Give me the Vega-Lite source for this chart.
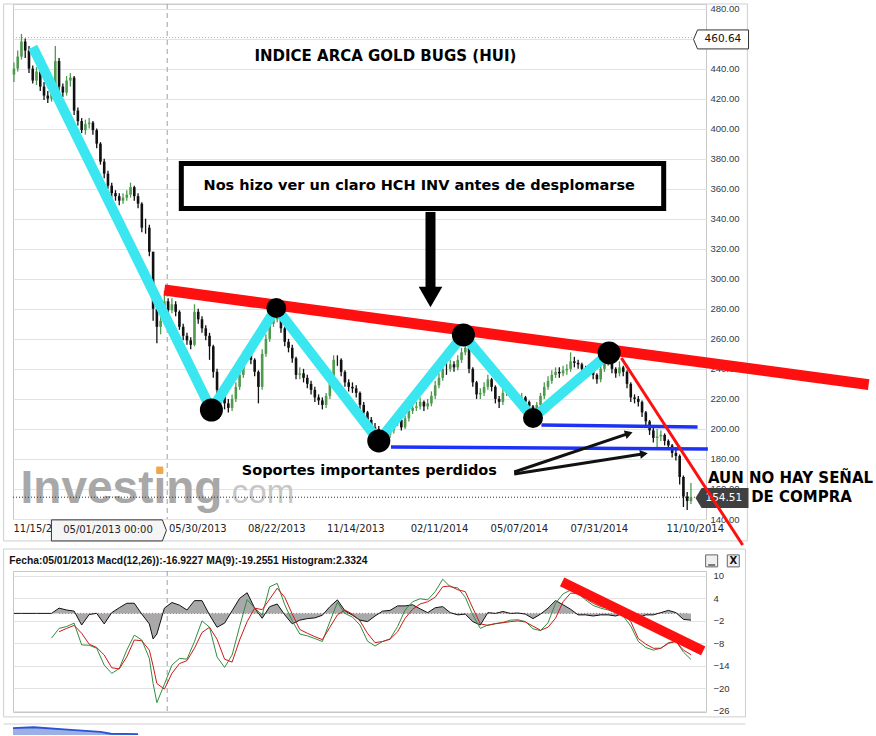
{
"$schema":"https://vega.github.io/schema/vega-lite/v6.json",
"usermeta":{"embedOptions":{"actions":false}},
"padding":{"left":2,"top":3,"right":0,"bottom":0},
"background":"white",
"bounds":"flush",
"spacing":52,
"config":{"view":{"stroke":"#c8c8c8"},"axis":{"domain":false,"ticks":false},"text":{"font":"DejaVu Sans"}},
"datasets":{
"price":[
{"d":"2012-11-16","o":436,"h":444,"l":431,"c":440},
{"d":"2012-11-20","o":440,"h":452,"l":438,"c":448},
{"d":"2012-11-24","o":448,"h":463,"l":446,"c":458},
{"d":"2012-11-28","o":458,"h":460,"l":447,"c":452},
{"d":"2012-12-02","o":452,"h":455,"l":437,"c":440},
{"d":"2012-12-06","o":440,"h":442,"l":430,"c":432},
{"d":"2012-12-10","o":432,"h":441,"l":429,"c":438},
{"d":"2012-12-14","o":438,"h":439,"l":425,"c":428},
{"d":"2012-12-18","o":428,"h":431,"l":419,"c":422},
{"d":"2012-12-22","o":422,"h":425,"l":417,"c":420},
{"d":"2012-12-26","o":420,"h":431,"l":418,"c":428},
{"d":"2012-12-30","o":428,"h":455,"l":426,"c":445},
{"d":"2013-01-03","o":445,"h":447,"l":425,"c":428},
{"d":"2013-01-07","o":428,"h":430,"l":421,"c":424},
{"d":"2013-01-11","o":424,"h":435,"l":422,"c":432},
{"d":"2013-01-15","o":432,"h":437,"l":428,"c":434},
{"d":"2013-01-19","o":434,"h":435,"l":409,"c":412},
{"d":"2013-01-23","o":412,"h":414,"l":402,"c":405},
{"d":"2013-01-27","o":405,"h":407,"l":397,"c":399},
{"d":"2013-01-31","o":399,"h":406,"l":396,"c":403},
{"d":"2013-02-04","o":403,"h":407,"l":400,"c":404},
{"d":"2013-02-08","o":404,"h":405,"l":396,"c":399},
{"d":"2013-02-12","o":399,"h":400,"l":387,"c":390},
{"d":"2013-02-16","o":390,"h":391,"l":376,"c":378},
{"d":"2013-02-20","o":378,"h":380,"l":367,"c":370},
{"d":"2013-02-24","o":370,"h":372,"l":360,"c":362},
{"d":"2013-02-28","o":362,"h":364,"l":354,"c":357},
{"d":"2013-03-04","o":357,"h":359,"l":352,"c":355},
{"d":"2013-03-08","o":355,"h":357,"l":349,"c":352},
{"d":"2013-03-12","o":352,"h":357,"l":350,"c":354},
{"d":"2013-03-16","o":354,"h":359,"l":352,"c":356},
{"d":"2013-03-20","o":356,"h":364,"l":354,"c":361},
{"d":"2013-03-24","o":361,"h":362,"l":352,"c":355},
{"d":"2013-03-28","o":355,"h":357,"l":347,"c":350},
{"d":"2013-04-01","o":350,"h":351,"l":331,"c":334},
{"d":"2013-04-05","o":334,"h":340,"l":330,"c":334},
{"d":"2013-04-09","o":334,"h":336,"l":315,"c":318},
{"d":"2013-04-13","o":318,"h":318,"l":272,"c":280},
{"d":"2013-04-17","o":280,"h":282,"l":257,"c":268},
{"d":"2013-04-21","o":268,"h":276,"l":263,"c":272},
{"d":"2013-04-25","o":272,"h":292,"l":270,"c":285},
{"d":"2013-04-29","o":285,"h":287,"l":276,"c":279},
{"d":"2013-05-03","o":279,"h":287,"l":277,"c":283},
{"d":"2013-05-07","o":283,"h":285,"l":275,"c":278},
{"d":"2013-05-11","o":278,"h":279,"l":266,"c":268},
{"d":"2013-05-15","o":268,"h":270,"l":259,"c":262},
{"d":"2013-05-19","o":262,"h":264,"l":256,"c":259},
{"d":"2013-05-23","o":259,"h":261,"l":253,"c":256},
{"d":"2013-05-27","o":256,"h":283,"l":255,"c":278},
{"d":"2013-05-31","o":278,"h":280,"l":270,"c":273},
{"d":"2013-06-04","o":273,"h":275,"l":264,"c":267},
{"d":"2013-06-08","o":267,"h":269,"l":259,"c":262},
{"d":"2013-06-12","o":262,"h":264,"l":246,"c":255},
{"d":"2013-06-16","o":255,"h":256,"l":234,"c":238},
{"d":"2013-06-20","o":238,"h":240,"l":223,"c":226},
{"d":"2013-06-24","o":226,"h":228,"l":217,"c":222},
{"d":"2013-06-28","o":222,"h":224,"l":213,"c":217},
{"d":"2013-07-02","o":217,"h":220,"l":211,"c":214},
{"d":"2013-07-06","o":214,"h":223,"l":212,"c":220},
{"d":"2013-07-10","o":220,"h":231,"l":218,"c":228},
{"d":"2013-07-14","o":228,"h":239,"l":226,"c":236},
{"d":"2013-07-18","o":236,"h":252,"l":234,"c":249},
{"d":"2013-07-22","o":249,"h":253,"l":246,"c":250},
{"d":"2013-07-26","o":250,"h":252,"l":243,"c":246},
{"d":"2013-07-30","o":246,"h":247,"l":235,"c":238},
{"d":"2013-08-03","o":238,"h":239,"l":217,"c":228},
{"d":"2013-08-07","o":228,"h":253,"l":226,"c":250},
{"d":"2013-08-11","o":250,"h":263,"l":248,"c":260},
{"d":"2013-08-15","o":260,"h":273,"l":258,"c":270},
{"d":"2013-08-19","o":270,"h":276,"l":268,"c":273},
{"d":"2013-08-23","o":273,"h":284,"l":271,"c":280},
{"d":"2013-08-27","o":280,"h":281,"l":264,"c":267},
{"d":"2013-08-31","o":267,"h":268,"l":255,"c":258},
{"d":"2013-09-04","o":258,"h":260,"l":251,"c":254},
{"d":"2013-09-08","o":254,"h":256,"l":244,"c":247},
{"d":"2013-09-12","o":247,"h":248,"l":233,"c":236},
{"d":"2013-09-16","o":236,"h":241,"l":233,"c":237},
{"d":"2013-09-20","o":237,"h":240,"l":231,"c":234},
{"d":"2013-09-24","o":234,"h":236,"l":227,"c":230},
{"d":"2013-09-28","o":230,"h":232,"l":223,"c":226},
{"d":"2013-10-02","o":226,"h":228,"l":218,"c":221},
{"d":"2013-10-06","o":221,"h":223,"l":216,"c":219},
{"d":"2013-10-10","o":219,"h":221,"l":213,"c":216},
{"d":"2013-10-14","o":216,"h":224,"l":214,"c":222},
{"d":"2013-10-18","o":222,"h":235,"l":220,"c":232},
{"d":"2013-10-22","o":232,"h":249,"l":230,"c":246},
{"d":"2013-10-26","o":246,"h":249,"l":242,"c":246},
{"d":"2013-10-30","o":246,"h":247,"l":235,"c":238},
{"d":"2013-11-03","o":238,"h":239,"l":228,"c":231},
{"d":"2013-11-07","o":231,"h":233,"l":225,"c":228},
{"d":"2013-11-11","o":228,"h":231,"l":224,"c":227},
{"d":"2013-11-15","o":227,"h":229,"l":221,"c":224},
{"d":"2013-11-19","o":224,"h":225,"l":213,"c":216},
{"d":"2013-11-23","o":216,"h":218,"l":208,"c":211},
{"d":"2013-11-27","o":211,"h":212,"l":203,"c":206},
{"d":"2013-12-01","o":206,"h":208,"l":198,"c":201},
{"d":"2013-12-05","o":201,"h":204,"l":197,"c":200},
{"d":"2013-12-09","o":200,"h":202,"l":194,"c":197},
{"d":"2013-12-13","o":197,"h":199,"l":193,"c":196},
{"d":"2013-12-17","o":196,"h":199,"l":193,"c":196},
{"d":"2013-12-21","o":196,"h":202,"l":194,"c":199},
{"d":"2013-12-25","o":199,"h":206,"l":197,"c":204},
{"d":"2013-12-29","o":204,"h":208,"l":202,"c":206},
{"d":"2014-01-02","o":206,"h":207,"l":199,"c":201},
{"d":"2014-01-06","o":201,"h":209,"l":200,"c":207},
{"d":"2014-01-10","o":207,"h":214,"l":205,"c":212},
{"d":"2014-01-14","o":212,"h":217,"l":210,"c":214},
{"d":"2014-01-18","o":214,"h":218,"l":212,"c":215},
{"d":"2014-01-22","o":215,"h":221,"l":213,"c":218},
{"d":"2014-01-26","o":218,"h":219,"l":212,"c":215},
{"d":"2014-01-30","o":215,"h":220,"l":213,"c":217},
{"d":"2014-02-03","o":217,"h":225,"l":215,"c":222},
{"d":"2014-02-07","o":222,"h":232,"l":220,"c":229},
{"d":"2014-02-11","o":229,"h":237,"l":227,"c":234},
{"d":"2014-02-15","o":234,"h":243,"l":232,"c":240},
{"d":"2014-02-19","o":240,"h":244,"l":236,"c":240},
{"d":"2014-02-23","o":240,"h":246,"l":238,"c":243},
{"d":"2014-02-27","o":243,"h":245,"l":238,"c":241},
{"d":"2014-03-03","o":241,"h":249,"l":239,"c":246},
{"d":"2014-03-07","o":246,"h":254,"l":244,"c":251},
{"d":"2014-03-11","o":251,"h":258,"l":249,"c":254},
{"d":"2014-03-15","o":254,"h":255,"l":237,"c":240},
{"d":"2014-03-19","o":240,"h":241,"l":228,"c":231},
{"d":"2014-03-23","o":231,"h":232,"l":220,"c":223},
{"d":"2014-03-27","o":223,"h":227,"l":220,"c":224},
{"d":"2014-03-31","o":224,"h":231,"l":222,"c":228},
{"d":"2014-04-04","o":228,"h":236,"l":226,"c":233},
{"d":"2014-04-08","o":233,"h":234,"l":225,"c":228},
{"d":"2014-04-12","o":228,"h":229,"l":217,"c":220},
{"d":"2014-04-16","o":220,"h":222,"l":214,"c":218},
{"d":"2014-04-20","o":218,"h":227,"l":216,"c":224},
{"d":"2014-04-24","o":224,"h":229,"l":222,"c":226},
{"d":"2014-04-28","o":226,"h":228,"l":222,"c":225},
{"d":"2014-05-02","o":225,"h":226,"l":219,"c":221},
{"d":"2014-05-06","o":221,"h":223,"l":216,"c":219},
{"d":"2014-05-10","o":219,"h":224,"l":217,"c":221},
{"d":"2014-05-14","o":221,"h":222,"l":215,"c":218},
{"d":"2014-05-18","o":218,"h":219,"l":212,"c":215},
{"d":"2014-05-22","o":215,"h":216,"l":210,"c":212},
{"d":"2014-05-26","o":212,"h":218,"l":210,"c":216},
{"d":"2014-05-30","o":216,"h":224,"l":214,"c":222},
{"d":"2014-06-03","o":222,"h":231,"l":220,"c":228},
{"d":"2014-06-07","o":228,"h":235,"l":226,"c":232},
{"d":"2014-06-11","o":232,"h":239,"l":230,"c":236},
{"d":"2014-06-15","o":236,"h":241,"l":234,"c":238},
{"d":"2014-06-19","o":238,"h":241,"l":234,"c":237},
{"d":"2014-06-23","o":237,"h":242,"l":235,"c":239},
{"d":"2014-06-27","o":239,"h":243,"l":236,"c":240},
{"d":"2014-07-01","o":240,"h":251,"l":238,"c":245},
{"d":"2014-07-05","o":245,"h":248,"l":241,"c":244},
{"d":"2014-07-09","o":244,"h":246,"l":240,"c":243},
{"d":"2014-07-13","o":243,"h":244,"l":237,"c":240},
{"d":"2014-07-17","o":240,"h":242,"l":235,"c":238},
{"d":"2014-07-21","o":238,"h":242,"l":235,"c":239},
{"d":"2014-07-25","o":239,"h":240,"l":233,"c":236},
{"d":"2014-07-29","o":236,"h":237,"l":230,"c":233},
{"d":"2014-08-02","o":233,"h":242,"l":231,"c":240},
{"d":"2014-08-06","o":240,"h":247,"l":238,"c":244},
{"d":"2014-08-10","o":244,"h":250,"l":242,"c":247},
{"d":"2014-08-14","o":247,"h":248,"l":237,"c":240},
{"d":"2014-08-18","o":240,"h":241,"l":234,"c":237},
{"d":"2014-08-22","o":237,"h":245,"l":235,"c":241},
{"d":"2014-08-26","o":241,"h":242,"l":235,"c":238},
{"d":"2014-08-30","o":238,"h":239,"l":227,"c":230},
{"d":"2014-09-03","o":230,"h":231,"l":218,"c":221},
{"d":"2014-09-07","o":221,"h":223,"l":217,"c":220},
{"d":"2014-09-11","o":220,"h":222,"l":215,"c":218},
{"d":"2014-09-15","o":218,"h":219,"l":208,"c":211},
{"d":"2014-09-19","o":211,"h":212,"l":202,"c":205},
{"d":"2014-09-23","o":205,"h":206,"l":196,"c":199},
{"d":"2014-09-27","o":199,"h":201,"l":191,"c":194},
{"d":"2014-10-01","o":194,"h":200,"l":188,"c":195},
{"d":"2014-10-05","o":195,"h":199,"l":192,"c":196},
{"d":"2014-10-09","o":196,"h":197,"l":189,"c":192},
{"d":"2014-10-13","o":192,"h":193,"l":186,"c":189},
{"d":"2014-10-17","o":189,"h":190,"l":181,"c":184},
{"d":"2014-10-21","o":184,"h":186,"l":179,"c":182},
{"d":"2014-10-25","o":182,"h":183,"l":163,"c":168},
{"d":"2014-10-29","o":168,"h":169,"l":148,"c":155},
{"d":"2014-11-02","o":155,"h":158,"l":146,"c":152},
{"d":"2014-11-06","o":152,"h":164,"l":150,"c":154.51}
],
"macd":[
{"d":"2012-11-16","hist":0},
{"d":"2012-11-24","hist":0},
{"d":"2012-12-02","hist":0},
{"d":"2012-12-10","hist":0},
{"d":"2012-12-18","hist":0},
{"d":"2012-12-26","hist":0,"m":-6.6},
{"d":"2013-01-03","hist":1.4,"m":-4.0,"s":-4.9},
{"d":"2013-01-11","hist":0.9,"m":-3.5,"s":-4.0},
{"d":"2013-01-19","hist":0.6,"m":-2.6,"s":-3.2},
{"d":"2013-01-27","hist":-3.1,"m":-8.4,"s":-5.3},
{"d":"2013-02-04","hist":-0.3,"m":-8.5,"s":-8.2},
{"d":"2013-02-12","hist":0,"m":-9.3,"s":-9.1},
{"d":"2013-02-20","hist":-2.8,"m":-13.8,"s":-11.1},
{"d":"2013-02-28","hist":0.2,"m":-16.0,"s":-14.5},
{"d":"2013-03-08","hist":1.5,"m":-14.7,"s":-14.8},
{"d":"2013-03-16","hist":2.7,"m":-9.8,"s":-11.6},
{"d":"2013-03-24","hist":2.7,"m":-5.8,"s":-7.1},
{"d":"2013-04-01","hist":-0.2,"m":-7.1,"s":-7.3},
{"d":"2013-04-09","hist":-2.8,"m":-12.0,"s":-9.8},
{"d":"2013-04-13","hist":-6.8,"m":-18.7,"s":-14.0},
{"d":"2013-04-17","hist":-5.5,"m":-23.8,"s":-18.7},
{"d":"2013-04-25","hist":1.4,"m":-18.9,"s":-20.2},
{"d":"2013-05-03","hist":2.9,"m":-13.8,"s":-16.0},
{"d":"2013-05-11","hist":2.2,"m":-12.0,"s":-13.4},
{"d":"2013-05-19","hist":0.9,"m":-12.2,"s":-12.6},
{"d":"2013-05-27","hist":3.4,"m":-7.5,"s":-9.3},
{"d":"2013-06-04","hist":3.4,"m":-2.0,"s":-5.1},
{"d":"2013-06-12","hist":-0.4,"m":-3.7,"s":-3.7},
{"d":"2013-06-20","hist":-3.7,"m":-11.6,"s":-6.9},
{"d":"2013-06-28","hist":-2.6,"m":-14.4,"s":-12.2},
{"d":"2013-07-06","hist":0.7,"m":-11.1,"s":-13.0},
{"d":"2013-07-14","hist":4.0,"m":-3.5,"s":-7.1},
{"d":"2013-07-22","hist":5.5,"m":3.7,"s":-2.2},
{"d":"2013-07-30","hist":1.4,"m":1.4,"s":1.4},
{"d":"2013-08-07","hist":-1.3,"m":-0.4,"s":1.0},
{"d":"2013-08-15","hist":1.8,"m":7.1,"s":3.8},
{"d":"2013-08-23","hist":2.5,"m":8.0,"s":6.7},
{"d":"2013-08-31","hist":-0.4,"m":2.3,"s":4.3},
{"d":"2013-09-08","hist":-2.8,"m":-2.0,"s":-0.2},
{"d":"2013-09-16","hist":-1.8,"m":-5.5,"s":-4.3},
{"d":"2013-09-24","hist":-1.4,"m":-6.0,"s":-5.3},
{"d":"2013-10-02","hist":-1.2,"m":-6.7,"s":-6.2},
{"d":"2013-10-10","hist":-0.5,"m":-7.5,"s":-7.0},
{"d":"2013-10-18","hist":1.8,"m":-2.2,"s":-3.7},
{"d":"2013-10-26","hist":3.6,"m":2.9,"s":-0.4},
{"d":"2013-11-03","hist":0.7,"m":0,"s":0.9},
{"d":"2013-11-11","hist":-0.5,"m":-1.0,"s":-0.2},
{"d":"2013-11-19","hist":-1.8,"m":-3.1,"s":-2.0},
{"d":"2013-11-27","hist":-2.2,"m":-7.4,"s":-5.3},
{"d":"2013-12-05","hist":-0.7,"m":-8.7,"s":-7.8},
{"d":"2013-12-13","hist":0.6,"m":-7.5,"s":-7.5},
{"d":"2013-12-21","hist":0.8,"m":-6.8,"s":-6.9},
{"d":"2013-12-29","hist":2.0,"m":-3.5,"s":-4.9},
{"d":"2014-01-06","hist":2.0,"m":0.9,"s":-1.3},
{"d":"2014-01-14","hist":2.3,"m":3.1,"s":1.1},
{"d":"2014-01-22","hist":1.2,"m":3.9,"s":2.5},
{"d":"2014-01-30","hist":0.2,"m":3.6,"s":3.1},
{"d":"2014-02-07","hist":1.5,"m":5.8,"s":4.3},
{"d":"2014-02-15","hist":1.8,"m":9.1,"s":7.1},
{"d":"2014-02-23","hist":0.2,"m":7.1,"s":7.3},
{"d":"2014-03-03","hist":-0.4,"m":6.8,"s":6.3},
{"d":"2014-03-11","hist":-0.2,"m":4.3,"s":5.8},
{"d":"2014-03-19","hist":-2.2,"m":-0.4,"s":1.4},
{"d":"2014-03-27","hist":-3.1,"m":-4.0,"s":-2.8},
{"d":"2014-04-04","hist":0.2,"m":-3.1,"s":-3.2},
{"d":"2014-04-12","hist":0,"m":-2.8,"s":-2.7},
{"d":"2014-04-20","hist":0.5,"m":-2.4,"s":-2.5},
{"d":"2014-04-28","hist":0,"m":-1.8,"s":-2.2},
{"d":"2014-05-06","hist":0.1,"m":-1.7,"s":-2.0},
{"d":"2014-05-14","hist":-0.2,"m":-2.2,"s":-2.3},
{"d":"2014-05-22","hist":-1.4,"m":-4.1,"s":-3.4},
{"d":"2014-05-30","hist":-0.2,"m":-4.6,"s":-4.5},
{"d":"2014-06-07","hist":1.4,"m":-2.5,"s":-3.7},
{"d":"2014-06-15","hist":3.4,"m":2.7,"s":-1.3},
{"d":"2014-06-23","hist":2.3,"m":5.2,"s":3.1},
{"d":"2014-07-01","hist":1.1,"m":6.2,"s":5.4},
{"d":"2014-07-09","hist":-0.4,"m":5.3,"s":5.3},
{"d":"2014-07-17","hist":-0.4,"m":3.6,"s":4.0},
{"d":"2014-07-25","hist":-0.7,"m":2.1,"s":2.7},
{"d":"2014-08-02","hist":-0.4,"m":1.4,"s":1.8},
{"d":"2014-08-10","hist":-0.4,"m":0.9,"s":1.4},
{"d":"2014-08-18","hist":-0.7,"m":0.2,"s":0.7},
{"d":"2014-08-26","hist":0,"m":-0.7,"s":-0.2},
{"d":"2014-09-03","hist":-1.3,"m":-3.4,"s":-2.2},
{"d":"2014-09-11","hist":-1.1,"m":-7.5,"s":-6.7},
{"d":"2014-09-19","hist":-0.4,"m":-9.1,"s":-8.2},
{"d":"2014-09-27","hist":-0.4,"m":-9.8,"s":-9.3},
{"d":"2014-10-05","hist":0.2,"m":-9.3,"s":-9.3},
{"d":"2014-10-13","hist":0.8,"m":-7.8,"s":-8.0},
{"d":"2014-10-21","hist":0.2,"m":-7.4,"s":-7.5},
{"d":"2014-10-29","hist":-1.6,"m":-10.3,"s":-9.8},
{"d":"2014-11-06","hist":-1.8,"m":-12.3,"s":-11.0}
]
},
"vconcat":[
{
"width":693,"height":515,
"encoding":{
"x":{"field":"d","type":"temporal","scale":{"type":"utc","domain":[{"year":2012,"month":11,"date":15,"utc":true},{"year":2014,"month":11,"date":22,"utc":true}]},
"axis":{"values":[{"year":2012,"month":11,"date":15,"utc":true},{"year":2013,"month":5,"date":30,"utc":true},{"year":2013,"month":8,"date":22,"utc":true},{"year":2013,"month":11,"date":14,"utc":true},{"year":2014,"month":2,"date":11,"utc":true},{"year":2014,"month":5,"date":7,"utc":true},{"year":2014,"month":7,"date":31,"utc":true},{"year":2014,"month":11,"date":10,"utc":true}],"format":"%m/%d/%Y","labelFont":"DejaVu Sans","labelFontSize":10,"labelColor":"#222222","labelPadding":4,"labelFlush":5,"labelOverlap":false,"grid":false,"title":null}},
"y":{"field":"v","type":"quantitative","scale":{"domain":[140,483],"nice":false,"zero":false},
"axis":{"orient":"right","values":[140,160,180,200,220,240,260,280,300,320,340,360,380,400,420,440,460,480],"format":".2f","labelExpr":"datum.value == 460 ? '' : datum.label","labelFont":"Liberation Sans","labelFontSize":9.5,"labelColor":"#2f3d4c","labelPadding":4,"grid":true,"gridColor":"#e2e2e2","title":null}}
},
"layer":[
{"data":{"values":[{"d":"2012-11-05","d2":"2015-01-05","v":483,"v2":125.4}]},"mark":{"type":"rect","fillOpacity":0,"stroke":"#cfcfcf","strokeWidth":1},"encoding":{"x2":{"field":"d2"},"y2":{"field":"v2"}}},
{"data":{"values":[{"d":"2012-11-23","v":150.7,"t":"Investing"}]},"mark":{"type":"text","align":"left","baseline":"alphabetic","font":"Liberation Sans","fontWeight":"bold","fontSize":46,"color":"#a8a8a8"},"encoding":{"text":{"field":"t"}}},
{"data":{"values":[{"d":"2013-06-26","v":150.7,"t":".com"}]},"mark":{"type":"text","align":"left","baseline":"alphabetic","font":"Liberation Sans","fontSize":33,"color":"#c6c6c6"},"encoding":{"text":{"field":"t"}}},
{"data":{"values":[{"d":"2013-04-20","v":172.6}]},"mark":{"type":"point","shape":"square","filled":true,"size":49,"color":"#f2a64a","opacity":1}},
{"data":{"values":[{"d":"2013-04-28","v":483,"v2":140}]},"mark":{"type":"rule","color":"#a0a0a0","strokeDash":[5,4],"strokeWidth":1},"encoding":{"y2":{"field":"v2"}}},
{"data":{"values":[{"d":"2012-11-15","d2":"2014-11-13","v":460.64}]},"mark":{"type":"rule","color":"#b0b0b0","strokeDash":[1,2],"strokeWidth":1},"encoding":{"x2":{"field":"d2"}}},
{"data":{"values":[{"d":"2012-11-15","d2":"2014-11-13","v":154.51}]},"mark":{"type":"rule","color":"#333333","strokeDash":[1,2],"strokeWidth":1},"encoding":{"x2":{"field":"d2"}}},
{"data":{"name":"price"},"mark":{"type":"rule","strokeWidth":1.3},"encoding":{"y":{"field":"l","type":"quantitative","title":null},"y2":{"field":"h"},"color":{"condition":{"test":"datum.c > datum.o","value":"#4f9a4f"},"value":"#111111"}}},
{"data":{"name":"price"},"mark":{"type":"rule","strokeWidth":2.6},"encoding":{"y":{"field":"o","type":"quantitative","title":null},"y2":{"field":"c"},"color":{"condition":{"test":"datum.c > datum.o","value":"#4f9a4f"},"value":"#111111"}}},
{"data":{"values":[{"d":"2013-04-25","v":292.5},{"d":"2015-05-14","v":229.5}]},"mark":{"type":"line","color":"#ff1010","strokeWidth":11,"strokeCap":"butt"}},
{"data":{"values":[{"s":1,"d":"2014-05-31","v":202.6},{"s":1,"d":"2014-11-13","v":201.3},{"s":2,"d":"2013-12-22","v":188.0},{"s":2,"d":"2014-11-24","v":186.6}]},"mark":{"type":"line","color":"#1e32f5","strokeWidth":3.5},"encoding":{"detail":{"field":"s"}}},
{"data":{"values":[{"d":"2012-12-06","v":454.4},{"d":"2013-06-14","v":212.6},{"d":"2013-08-22","v":280.5},{"d":"2013-12-09","v":192.0},{"d":"2014-03-09","v":262.6},{"d":"2014-05-22","v":207.3},{"d":"2014-08-11","v":250.6}]},"mark":{"type":"line","color":"#3ae6f0","strokeWidth":10,"strokeCap":"butt","strokeJoin":"round"}},
{"data":{"values":[{"d":"2013-06-14","v":212.6},{"d":"2013-12-09","v":192.0},{"d":"2014-03-09","v":262.6},{"d":"2014-08-11","v":250.6}]},"mark":{"type":"point","shape":"circle","filled":true,"size":530,"color":"#000000","opacity":1}},
{"data":{"values":[{"d":"2013-08-22","v":280.5},{"d":"2014-05-22","v":207.3}]},"mark":{"type":"point","shape":"circle","filled":true,"size":400,"color":"#000000","opacity":1}},
{"data":{"values":[{"d":"2014-12-08","v":459.4}]},"mark":{"type":"point","shape":"M-1,0L-0.855,-0.345L1,-0.345L1,0.345L-0.855,0.345Z","size":3025,"filled":true,"fill":"#ffffff","stroke":"#333333","strokeWidth":1,"opacity":1}},
{"data":{"values":[{"d":"2014-12-10","v":459.4,"t":"460.64"}]},"mark":{"type":"text","fontSize":10.5,"color":"#111111","align":"center","baseline":"middle"},"encoding":{"text":{"field":"t"}}},
{"data":{"values":[{"d":"2014-12-09","v":154.0}]},"mark":{"type":"point","shape":"M-1,0L-0.77,-0.377L1,-0.377L1,0.377L-0.77,0.377Z","size":2809,"filled":true,"fill":"#404040","strokeWidth":0,"opacity":1}},
{"data":{"values":[{"d":"2014-12-11","v":154.0,"t":"154.51"}]},"mark":{"type":"text","fontSize":10.5,"color":"#ffffff","align":"center","baseline":"middle"},"encoding":{"text":{"field":"t"}}},
{"data":{"values":[{"d":"2014-08-24","v":247.2},{"d":"2014-12-31","v":122.7}]},"mark":{"type":"line","color":"#ff1010","strokeWidth":3}},
{"data":{"values":[{"s":1,"d":"2014-05-02","v":171.3},{"s":1,"d":"2014-09-01","v":197.0},{"s":2,"d":"2014-05-02","v":170.0},{"s":2,"d":"2014-09-17","v":183.4}]},"mark":{"type":"line","color":"#111111","strokeWidth":3},"encoding":{"detail":{"field":"s"}}},
{"data":{"values":[{"d":"2014-09-01","v":197.0}]},"mark":{"type":"point","shape":"triangle-right","filled":true,"size":80,"angle":-18.6,"color":"#111111","opacity":1}},
{"data":{"values":[{"d":"2014-09-17","v":183.4}]},"mark":{"type":"point","shape":"triangle-right","filled":true,"size":80,"angle":-8.7,"color":"#111111","opacity":1}},
{"data":{"values":[{"d":"2014-02-02","v":344.5,"v2":292.5}]},"mark":{"type":"rule","color":"#000000","strokeWidth":10},"encoding":{"y2":{"field":"v2"}}},
{"data":{"values":[{"d":"2014-02-02","v":287.9}]},"mark":{"type":"point","shape":"triangle-down","filled":true,"size":560,"color":"#000000","opacity":1}},
{"data":{"values":[{"d":"2013-05-13","d2":"2014-10-08","v":376.8,"v2":346.8}]},"mark":{"type":"rect","fill":"#ffffff","stroke":"#000000","strokeWidth":5},"encoding":{"x2":{"field":"d2"},"y2":{"field":"v2"}}},
{"data":{"values":[{"d":"2014-01-21","v":362.1,"t":"Nos hizo ver un claro HCH INV antes de desplomarse"}]},"mark":{"type":"text","font":"DejaVu Sans","fontWeight":"bold","fontSize":14.5,"color":"#000000","align":"center","baseline":"middle"},"encoding":{"text":{"field":"t"}}},
{"data":{"values":[{"d":"2013-12-16","v":448.4,"t":"INDICE ARCA GOLD BUGS (HUI)"}]},"mark":{"type":"text","font":"DejaVu Sans","fontWeight":"bold","fontSize":15,"color":"#000000","align":"center","baseline":"middle"},"encoding":{"text":{"field":"t"}}},
{"data":{"values":[{"d":"2013-11-29","v":172.0,"t":"Soportes importantes perdidos"}]},"mark":{"type":"text","font":"DejaVu Sans","fontWeight":"bold","fontSize":14.5,"color":"#000000","align":"center","baseline":"middle"},"encoding":{"text":{"field":"t"}}},
{"data":{"values":[{"d":"2014-11-24","v":167.3,"t":"AUN NO HAY SEÑAL"},{"d":"2015-01-09","v":154.7,"t":"DE COMPRA"}]},"mark":{"type":"text","font":"DejaVu Sans","fontWeight":"bold","fontSize":15,"color":"#000000","align":"left","baseline":"middle"},"encoding":{"text":{"field":"t"}}},
{"data":{"values":[{"d":"2013-02-25","v":132.4}]},"mark":{"type":"point","shape":"M-1,-0.183L0.93,-0.183L1,0L0.93,0.183L-1,0.183Z","size":13225,"filled":true,"fill":"#f5f5f5","stroke":"#333333","strokeWidth":1,"opacity":1}},
{"data":{"values":[{"d":"2013-02-24","v":132.4,"t":"05/01/2013 00:00"}]},"mark":{"type":"text","fontSize":10,"color":"#222222","align":"center","baseline":"middle"},"encoding":{"text":{"field":"t"}}}
]
},
{
"width":693,"height":141,
"encoding":{
"x":{"field":"d","type":"temporal","scale":{"type":"utc","domain":[{"year":2012,"month":11,"date":15,"utc":true},{"year":2014,"month":11,"date":22,"utc":true}]},"axis":null},
"y":{"field":"v","type":"quantitative","scale":{"domain":[-26.3,11.3],"nice":false,"zero":false},
"axis":{"orient":"right","values":[10,4,-2,-8,-14,-20,-26],"labelFont":"Liberation Sans","labelFontSize":9.5,"labelColor":"#333333","labelPadding":7,"grid":true,"gridColor":"#e2e2e2","title":null}}
},
"layer":[
{"data":{"values":[{"d":"2012-11-05","d2":"2015-01-03","v":17.17,"v2":-27.6}]},"mark":{"type":"rect","fillOpacity":0,"stroke":"#cfcfcf","strokeWidth":1},"encoding":{"x2":{"field":"d2"},"y2":{"field":"v2"}}},
{"data":{"values":[{"d":"2012-11-11","v":14.0,"t":"Fecha:05/01/2013 Macd(12,26)):-16.9227 MA(9):-19.2551 Histogram:2.3324"}]},"mark":{"type":"text","font":"Liberation Sans","fontWeight":"bold","fontSize":10.3,"color":"#111111","align":"left","baseline":"middle"},"encoding":{"text":{"field":"t"}}},
{"data":{"values":[{"d":"2012-11-05","d2":"2015-01-03","v":-29.5}]},"mark":{"type":"rule","color":"#cfcfcf","strokeWidth":1},"encoding":{"x2":{"field":"d2"}}},
{"data":{"values":[{"d":"2012-11-15","v":-30.6},{"d":"2012-12-07","v":-30.4},{"d":"2013-01-12","v":-31.0},{"d":"2013-02-16","v":-31.6},{"d":"2013-02-27","v":-32.1},{"d":"2013-03-28","v":-32.2}]},"mark":{"type":"area","color":"#9db0e6","opacity":1},"encoding":{"y2":{"datum":-32.4}}},
{"data":{"values":[{"d":"2012-11-15","v":-30.6},{"d":"2012-12-07","v":-30.4},{"d":"2013-01-12","v":-31.0},{"d":"2013-02-16","v":-31.6},{"d":"2013-02-27","v":-32.1},{"d":"2013-03-28","v":-32.2}]},"mark":{"type":"line","color":"#2a52d6","strokeWidth":2}},
{"data":{"values":[{"d":"2013-04-28","v":11.3,"v2":-26.3}]},"mark":{"type":"rule","color":"#a0a0a0","strokeDash":[5,4],"strokeWidth":1},"encoding":{"y2":{"field":"v2"}}},
{"data":{"values":[{"d":"2013-01-03","d2":"2014-11-04","v":0}]},"mark":{"type":"rule","color":"#e02020","strokeDash":[1,2],"strokeWidth":1},"encoding":{"x2":{"field":"d2"}}},
{"data":{"name":"macd"},"mark":{"type":"area","color":"#a9a9a9","opacity":1},"encoding":{"y":{"field":"hist","type":"quantitative","title":null},"y2":{"datum":0}}},
{"data":{"name":"macd"},"mark":{"type":"line","color":"#111111","strokeWidth":1},"encoding":{"y":{"field":"hist","type":"quantitative","title":null}}},
{"data":{"name":"macd"},"mark":{"type":"line","color":"#2f8f3f","strokeWidth":1},"encoding":{"y":{"field":"m","type":"quantitative","title":null}}},
{"data":{"name":"macd"},"mark":{"type":"line","color":"#cc1a1a","strokeWidth":1},"encoding":{"y":{"field":"s","type":"quantitative","title":null}}},
{"data":{"values":[{"d":"2014-06-22","v":8.4},{"d":"2014-11-19","v":-10.0}]},"mark":{"type":"line","color":"#ff1010","strokeWidth":10,"strokeCap":"butt"}},
{"data":{"values":[{"d":"2014-11-28","v":14},{"d":"2014-12-21","v":14}]},"mark":{"type":"point","shape":"square","size":144,"filled":true,"fill":"#f0f0f0","stroke":"#666666","strokeWidth":1,"opacity":1}},
{"data":{"values":[{"d":"2014-11-28","v":12.9}]},"mark":{"type":"point","shape":"M-1,-0.15L1,-0.15L1,0.15L-1,0.15Z","size":49,"filled":true,"color":"#111111","opacity":1}},
{"data":{"values":[{"d":"2014-12-21","v":14,"t":"X"}]},"mark":{"type":"text","font":"DejaVu Sans","fontWeight":"bold","fontSize":10,"color":"#111111","align":"center","baseline":"middle"},"encoding":{"text":{"field":"t"}}}
]
}
]
}
